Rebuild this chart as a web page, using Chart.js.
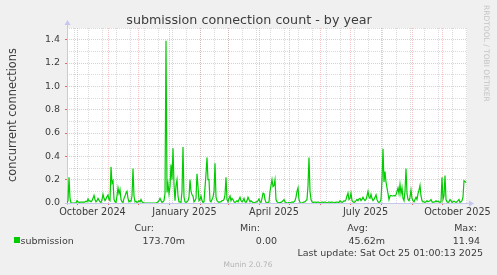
<!DOCTYPE html>
<html><head><meta charset="utf-8">
<script src="https://cdn.jsdelivr.net/npm/chart.js@4.4.1/dist/chart.umd.min.js"></script>
<style>html,body{margin:0;padding:0;background:#f0f0f0;overflow:hidden}canvas{display:block}</style>
</head><body>
<canvas id="c" width="497" height="275"></canvas>
<script>
const title = 'submission connection count - by year';
const yAxisTitle = 'concurrent connections';
const seriesName = 'submission';
const xTickLabels = ['October 2024', 'January 2025', 'April 2025', 'July 2025', 'October 2025'];
const xLabelMonths = [[2024, 9], [2025, 0], [2025, 3], [2025, 6], [2025, 9]];
const yTickValues = [0, 0.1, 0.2, 0.3, 0.4, 0.5, 0.6, 0.7, 0.8, 0.9, 1.0, 1.1, 1.2, 1.3, 1.4, 1.5];
const yTickLabels = ['0.0', '', '0.2', '', '0.4', '', '0.6', '', '0.8', '', '1.0', '', '1.2', '', '1.4', ''];
const statHeaders = ['Cur:', 'Min:', 'Avg:', 'Max:'];
const statValues = ['173.70m', '0.00', '45.62m', '11.94'];
const lastUpdate = 'Last update: Sat Oct 25 01:00:13 2025';
const footer = 'Munin 2.0.76';
const watermark = 'RRDTOOL / TOBI OETIKER';
// one value per day, starting 2024-09-21
const connections = [
  0,0.02,0.22,0.04,0,0,0,0,0,0,
  0.02,0.01,0.005,0.005,0.01,0.005,0.01,0.005,0.01,0.015,
  0.01,0.035,0.015,0.02,0.01,0.02,0.04,0.065,0.03,0.01,
  0.02,0.04,0.025,0.01,0.005,0.03,0.075,0.04,0.02,0.035,
  0.055,0.07,0.03,0.02,0.31,0.17,0.19,0.03,0.01,0.005,
  0.06,0.13,0.08,0.115,0.03,0.01,0.005,0.04,0.06,0.085,
  0.1,0.04,0.01,0.02,0.015,0.06,0.295,0.06,0.01,0.015,
  0.005,0.01,0.02,0.01,0.03,0.01,0.005,0,0,0,
  0,0,0,0,0,0,0,0,0,0,
  0.005,0.01,0.02,0.04,0.02,0.005,0.01,0.02,0.08,1.39,
  0.09,0.165,0.08,0.14,0.33,0.2,0.47,0.16,0.02,0.15,
  0.2,0.06,0.01,0.01,0.005,0.1,0.48,0.05,0.01,0.005,
  0.01,0.02,0.05,0.2,0.1,0.07,0.06,0.01,0.02,0.04,
  0.25,0.14,0.02,0.03,0.06,0.02,0.005,0.01,0.13,0.25,
  0.39,0.2,0.2,0.02,0.01,0.03,0.05,0.1,0.34,0.05,
  0.02,0.01,0.005,0.01,0.01,0.02,0.02,0.03,0.07,0.22,
  0.03,0.01,0.04,0.06,0.02,0.04,0.03,0.01,0.005,0.01,
  0.02,0.01,0.03,0.05,0.02,0.01,0.02,0.04,0.01,0.005,
  0.02,0.05,0.03,0.01,0.02,0.01,0.005,0,0.005,0.01,
  0.01,0.02,0.035,0.01,0.005,0.04,0.085,0.08,0.03,0.005,
  0,0.005,0.01,0.1,0.15,0.2,0.14,0.15,0.2,0.03,
  0.01,0.005,0,0.005,0.005,0.01,0.02,0.03,0.01,0.005,
  0,0,0.005,0,0.005,0.01,0.005,0.01,0.02,0.05,
  0.1,0.13,0.03,0.005,0,0,0.005,0.01,0.01,0.02,
  0.03,0.15,0.39,0.1,0.03,0.01,0.005,0.005,0.01,0.005,
  0.005,0.01,0.005,0,0.005,0.01,0.005,0.005,0.01,0.005,
  0,0.005,0.01,0.005,0.005,0.01,0.005,0,0.005,0.005,
  0.01,0.005,0.005,0.02,0.01,0.005,0.01,0.02,0.015,0.03,
  0.06,0.085,0.03,0.04,0.085,0.02,0.01,0.005,0.01,0.02,
  0.03,0.02,0.035,0.04,0.02,0.03,0.05,0.03,0.02,0.03,
  0.06,0.1,0.05,0.04,0.075,0.04,0.02,0.03,0.05,0.07,
  0.03,0.01,0.005,0.01,0.03,0.2,0.464,0.18,0.27,0.18,
  0.13,0.08,0.03,0.06,0.065,0.06,0.06,0.065,0.06,0.07,
  0.1,0.13,0.08,0.16,0.08,0.13,0.04,0.02,0.1,0.295,
  0.08,0.03,0.02,0.05,0.11,0.04,0.02,0.01,0.03,0.05,
  0.03,0.08,0.11,0.15,0.06,0.02,0.01,0.01,0.005,0.01,
  0.02,0.01,0.015,0.02,0.03,0.01,0.005,0.01,0.01,0.02,
  0.01,0.015,0.01,0.005,0.01,0.22,0.03,0.06,0.235,0.03,
  0.01,0.005,0.01,0.03,0.02,0.005,0.01,0.015,0.01,0.005,
  0.01,0.02,0.03,0.005,0.01,0.02,0.05,0.19,0.185,0.174
];

const DAY = 86400000;
const start = Date.UTC(2024, 8, 21);
const dayOf = (y, m, d, h) => (Date.UTC(y, m, d, h || 0) - start) / DAY;
const xMax = connections.length;

// x-axis ticks: month starts (major), biweekly (minor), mid-month labels
const xTicks = [];
for (let y = 2024, m = 9; y < 2026; ) {
  const v = dayOf(y, m, 1);
  if (v > xMax) break;
  xTicks.push({ value: v, kind: 'major', label: '' });
  m++; if (m > 11) { m = 0; y++; }
}
for (let v = dayOf(2024, 8, 28, 7); v < xMax; v += 14) xTicks.push({ value: v, kind: 'minor', label: '' });
xLabelMonths.forEach(([y, m], k) => {
  const a = dayOf(y, m, 1), b = dayOf(m === 11 ? y + 1 : y, (m + 1) % 12, 1);
  xTicks.push({ value: (a + b) / 2, kind: 'label', label: xTickLabels[k] });
});
xTicks.sort((a, b) => a.value - b.value);

const MAJOR = 'rgba(225,90,90,0.36)';
const MINOR = 'rgba(160,160,160,0.4)';
const AXIS = '#c6c6ef';
const TEXT = '#3c3c3c';
const FONT = '"DejaVu Sans", sans-serif';

Chart.defaults.font.family = FONT;

const deco = {
  id: 'deco',
  beforeDraw(chart) {
    const { ctx, chartArea: a } = chart;
    ctx.save();
    ctx.fillStyle = '#f0f0f0';
    ctx.fillRect(0, 0, chart.width, chart.height);
    ctx.fillStyle = '#ffffff';
    ctx.fillRect(a.left, a.top, a.right - a.left, a.bottom - a.top);
    ctx.restore();
  },
  beforeDatasetsDraw(chart) {
    const { ctx, chartArea: a } = chart;
    ctx.save();
    ctx.strokeStyle = AXIS; ctx.fillStyle = AXIS; ctx.lineWidth = 1;
    ctx.beginPath();
    ctx.moveTo(a.left + 0.5, a.bottom + 2); ctx.lineTo(a.left + 0.5, a.top - 4);
    ctx.moveTo(a.left - 2, a.bottom + 0.5); ctx.lineTo(a.right + 4, a.bottom + 0.5);
    ctx.stroke();
    ctx.beginPath();
    ctx.moveTo(a.left - 2.5, a.top - 3); ctx.lineTo(a.left + 3.5, a.top - 3); ctx.lineTo(a.left + 0.5, a.top - 8); ctx.closePath(); ctx.fill();
    ctx.beginPath();
    ctx.moveTo(a.right + 2, a.bottom - 2.5); ctx.lineTo(a.right + 2, a.bottom + 3.5); ctx.lineTo(a.right + 7, a.bottom + 0.5); ctx.closePath(); ctx.fill();
    ctx.restore();
  },
  afterDraw(chart) {
    const { ctx } = chart;
    ctx.save();
    ctx.fillStyle = TEXT;
    ctx.textBaseline = 'alphabetic';
    ctx.font = '12.7px ' + FONT;
    ctx.textAlign = 'center';
    ctx.fillText(title, 249, 24);
    // y axis title
    ctx.save();
    ctx.translate(15.5, 115);
    ctx.rotate(-Math.PI / 2);
    ctx.font = '11.4px ' + FONT;
    ctx.fillText(yAxisTitle, 0, 0);
    ctx.restore();
    // watermark
    ctx.save();
    ctx.translate(484, 5);
    ctx.rotate(Math.PI / 2);
    ctx.font = '7.5px ' + FONT;
    ctx.fillStyle = '#c4c4c4';
    ctx.textAlign = 'left';
    ctx.fillText(watermark, 0, 0);
    ctx.restore();
    // legend
    ctx.font = '9.5px ' + FONT;
    ctx.fillStyle = '#00cc00';
    ctx.fillRect(14, 237, 6, 6);
    ctx.fillStyle = TEXT;
    ctx.textAlign = 'left';
    ctx.fillText(seriesName, 20.5, 243.5);
    ctx.textAlign = 'right';
    const hx = [154, 260, 368, 477];
    const vx = [185, 277, 385, 480];
    statHeaders.forEach((h, k) => ctx.fillText(h, hx[k], 231));
    statValues.forEach((v, k) => ctx.fillText(v, vx[k], 243.5));
    ctx.fillText(lastUpdate, 483, 255.5);
    ctx.textAlign = 'center';
    ctx.font = '7.5px ' + FONT;
    ctx.fillStyle = '#b4b4b4';
    ctx.fillText(footer, 248, 267);
    ctx.restore();
  }
};

new Chart(document.getElementById('c'), {
  type: 'line',
  data: {
    datasets: [{
      label: seriesName,
      data: connections.map((v, i) => ({ x: i, y: v })),
      borderColor: '#00cc00',
      borderWidth: 1.2,
      pointRadius: 0,
      fill: false,
      tension: 0
    }]
  },
  options: {
    responsive: false,
    devicePixelRatio: 1,
    animation: false,
    events: [],
    layout: { padding: { left: 0, top: 28, right: 30, bottom: 57 } },
    plugins: { legend: { display: false }, tooltip: { enabled: false }, title: { display: false } },
    scales: {
      x: {
        type: 'linear',
        min: 0,
        max: xMax,
        afterBuildTicks(scale) { scale.ticks = xTicks.map(t => ({ value: t.value })); },
        afterFit(scale) { scale.height = 15; },
        ticks: {
          autoSkip: false,
          maxRotation: 0,
          minRotation: 0,
          padding: 2,
          color: TEXT,
          font: { size: 9.7, family: FONT },
          callback: (v, i) => xTicks[i] ? xTicks[i].label : ''
        },
        grid: {
          drawTicks: true,
          tickLength: 2,
          color: c => { const t = xTicks[c.index]; return !t ? 'transparent' : t.kind === 'major' ? MAJOR : t.kind === 'minor' ? MINOR : 'transparent'; },
          tickColor: c => { const t = xTicks[c.index]; return t && t.kind === 'major' ? 'rgba(225,70,70,0.8)' : 'transparent'; },
          tickBorderDash: []
        },
        border: { display: false, dash: [1, 1] }
      },
      y: {
        min: 0,
        max: 1.5,
        afterBuildTicks(scale) { scale.ticks = yTickValues.map(v => ({ value: v })); },
        afterFit(scale) { scale.width = 67; },
        ticks: {
          autoSkip: false,
          padding: 5,
          color: TEXT,
          font: { size: 9.5, family: FONT },
          callback: (v, i) => yTickLabels[i]
        },
        grid: {
          drawTicks: true,
          tickLength: 2,
          color: c => (c.index % 2 === 0 ? MAJOR : MINOR),
          tickColor: c => (c.index % 2 === 0 && c.index > 0 ? 'rgba(225,70,70,0.8)' : 'transparent'),
          tickBorderDash: []
        },
        border: { display: false, dash: [1, 1] }
      }
    }
  },
  plugins: [deco]
});
</script>
</body></html>
